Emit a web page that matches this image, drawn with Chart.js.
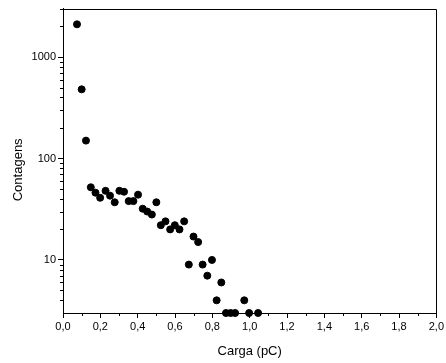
<!DOCTYPE html>
<html>
<head>
<meta charset="utf-8">
<script src="https://cdn.jsdelivr.net/npm/chart.js@4/dist/chart.umd.min.js"></script>
<style>
  html, body { margin: 0; padding: 0; background: #fff; }
  #wrap { width: 446px; height: 363px; }
</style>
</head>
<body>
<div id="wrap"><canvas id="chargeChart"></canvas></div>
<script>
// charge (pC) and counts
const carga = [0.075, 0.10, 0.123, 0.149, 0.174, 0.199, 0.228, 0.252, 0.277, 0.302,
  0.327, 0.352, 0.377, 0.402, 0.427, 0.451, 0.476, 0.50, 0.524, 0.549,
  0.574, 0.599, 0.624, 0.649, 0.674, 0.699, 0.724, 0.748, 0.773, 0.798,
  0.823, 0.848, 0.873, 0.898, 0.922, 0.971, 0.997, 1.045];
const contagens = [2100, 480, 150, 52, 46, 41, 48, 43, 37, 48,
  47, 38, 38, 44, 32, 30, 28, 37, 22, 24,
  20, 22, 20, 24, 9, 17, 15, 9, 7, 10,
  4, 6, 3, 3, 3, 4, 3, 3];
const yMajorTicks = [10, 100, 1000];
const yMinorTicks = [4, 5, 6, 7, 8, 9, 20, 30, 40, 50, 60, 70, 80, 90,
  200, 300, 400, 500, 600, 700, 800, 900, 2000, 3000];
const xMinorTicks = [0.1, 0.3, 0.5, 0.7, 0.9, 1.1, 1.3, 1.5, 1.7, 1.9];

const tickFont = { family: 'Liberation Sans, Arial, sans-serif', size: 11 };
const titleFont = { family: 'Liberation Sans, Arial, sans-serif', size: 13 };

// frame on top/right plus the small minor ticks
const framePlugin = {
  id: 'frame',
  afterDraw(chart) {
    const ctx = chart.ctx;
    const a = chart.chartArea;
    const xs = chart.scales.x, ys = chart.scales.y;
    ctx.save();
    ctx.strokeStyle = '#000';
    ctx.lineWidth = 1;
    ctx.beginPath();
    ctx.moveTo(Math.round(a.left) + 0.5, Math.round(a.top) + 0.5);
    ctx.lineTo(Math.round(a.right) + 0.5, Math.round(a.top) + 0.5);
    ctx.lineTo(Math.round(a.right) + 0.5, Math.round(a.bottom) + 0.5);
    ctx.stroke();
    ctx.beginPath();
    xMinorTicks.forEach(v => {
      const px = Math.round(xs.getPixelForValue(v)) + 0.5;
      ctx.moveTo(px, a.bottom);
      ctx.lineTo(px, a.bottom + 3);
    });
    yMinorTicks.forEach(v => {
      const py = Math.round(ys.getPixelForValue(v)) + 0.5;
      if (py < a.top || py > a.bottom) return;
      ctx.moveTo(a.left, py);
      ctx.lineTo(a.left - 3, py);
    });
    ctx.stroke();
    ctx.restore();
  }
};

new Chart(document.getElementById('chargeChart'), {
  type: 'scatter',
  data: {
    datasets: [{
      label: 'Contagens',
      data: carga.map((x, i) => ({ x: x, y: contagens[i] })),
      backgroundColor: '#000',
      borderColor: '#000',
      pointRadius: 3.5,
      pointHoverRadius: 3.5,
      clip: false
    }]
  },
  options: {
    responsive: true,
    maintainAspectRatio: false,
    animation: false,
    layout: { padding: { left: 0, right: 8, top: 8, bottom: 0 } },
    plugins: {
      legend: { display: false },
      tooltip: { enabled: false }
    },
    scales: {
      x: {
        type: 'linear',
        min: 0,
        max: 2,
        afterFit(scale) { scale.height = 50; },
        ticks: {
          stepSize: 0.2,
          color: '#000',
          font: tickFont,
          padding: 2,
          maxRotation: 0,
          callback: v => Number(v).toFixed(1).replace('.', ',')
        },
        grid: { drawOnChartArea: false, color: '#000', tickLength: 5 },
        border: { display: true, color: '#000', width: 1 },
        title: { display: true, text: 'Carga (pC)', color: '#000', font: titleFont, padding: { top: 4, bottom: 4 } }
      },
      y: {
        type: 'logarithmic',
        min: 3,
        max: 3000,
        afterFit(scale) { scale.width = 63; },
        afterBuildTicks(scale) { scale.ticks = yMajorTicks.map(v => ({ value: v })); },
        ticks: {
          color: '#000',
          font: tickFont,
          padding: 2,
          callback: v => String(v)
        },
        grid: { drawOnChartArea: false, color: '#000', tickLength: 5 },
        border: { display: true, color: '#000', width: 1 },
        // trailing spaces nudge the rotated title down like the original
        title: { display: true, text: 'Contagens\u00a0\u00a0\u00a0\u00a0\u00a0', color: '#000', font: titleFont, padding: { top: 11, bottom: 4 } }
      }
    }
  },
  plugins: [framePlugin]
});
</script>
</body>
</html>
